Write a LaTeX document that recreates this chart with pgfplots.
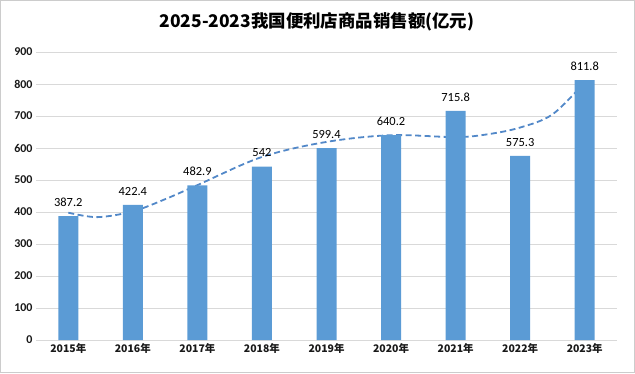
\documentclass[border=0pt]{standalone}
\usepackage{pgfplots}
\pgfplotsset{compat=1.18}
\usepackage{fontspec}
\setmainfont{Carlito}
\newfontfamily\cjk{Noto Sans CJK SC}
\definecolor{barblue}{HTML}{5B9BD5}
\definecolor{trend}{HTML}{5288C8}
\definecolor{gridc}{HTML}{D9D9D9}
\begin{document}
\begin{tikzpicture}[x=1bp,y=1bp]
\draw[gray!40, line width=1bp] (0.5,0.5) rectangle (634.5,372.5);
\node[font=\cjk\bfseries\fontsize{17.5}{19}\selectfont] at (317,351) {2025-2023我国便利店商品销售额(亿元)};
\begin{axis}[
  at={(36bp,33bp)}, anchor=south west,
  scale only axis, width=581bp, height=288bp,
  xmin=-0.5, xmax=8.5, ymin=0, ymax=900,
  ytick={0,100,...,900},
  xtick={0,...,8},
  xticklabels={2015年,2016年,2017年,2018年,2019年,2020年,2021年,2022年,2023年},
  xticklabel style={font=\cjk\bfseries\fontsize{10.5}{12}\selectfont, text=black!90},
  yticklabel style={font=\bfseries\fontsize{12}{13}\selectfont, text=black!90},
  /pgf/number format/assume math mode=true,
  ymajorgrids, grid style={gridc, line width=0.8bp},
  axis line style={draw=none},
  axis x line*=bottom,
  x axis line style={draw=gridc, line width=0.8bp},
  major tick length=0pt,
  tick style={draw=none},
  axis y line*=left,
  y axis line style={draw=none},
  clip=false,
]
\addplot[trend, line width=1.8bp, dash pattern=on 6bp off 3.5bp, smooth, tension=0.55] coordinates {
 (0,398) (0.45,384) (1,402) (1.5,440) (2,484) (3,572) (4,619) (5,640) (6,634) (6.5,643) (7,664) (7.5,705) (8,805)
};
\addplot[ybar, bar width=20bp, fill=barblue, draw=none,
  nodes near coords, point meta=explicit symbolic,
  every node near coord/.append style={font=\fontsize{12.5}{13}\selectfont, text=black, yshift=6bp}]
 coordinates {
 (0,387.2)[387.2] (1,422.4)[422.4] (2,482.9)[482.9] (3,542)[542] (4,599.4)[599.4] (5,640.2)[640.2] (6,715.8)[715.8] (7,575.3)[575.3] (8,811.8)[811.8]
};
\end{axis}
\end{tikzpicture}
\end{document}
